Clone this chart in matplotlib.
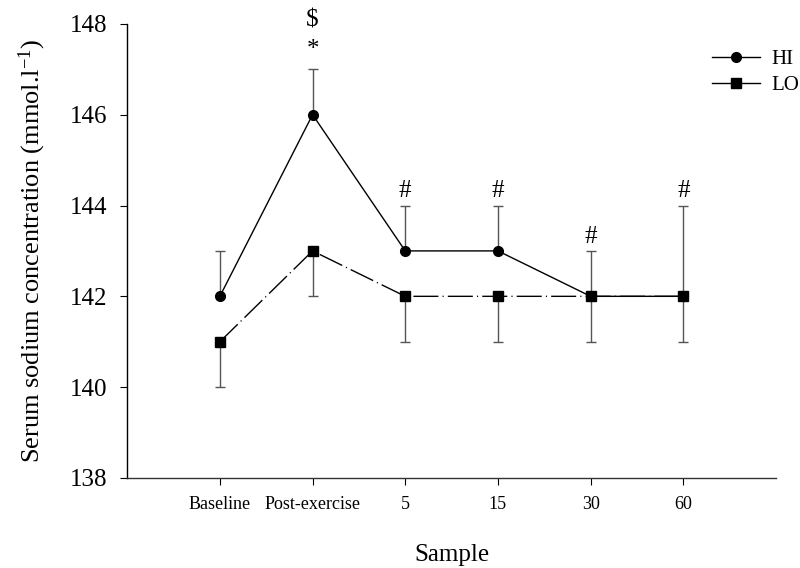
import matplotlib

matplotlib.use("Agg")
import matplotlib.pyplot as plt
import numpy as np

plt.rcParams["font.family"] = ["Liberation Serif", "DejaVu Serif"]
plt.rcParams["mathtext.fontset"] = "custom"
plt.rcParams["mathtext.rm"] = "Liberation Serif"
plt.rcParams["mathtext.it"] = "Liberation Serif:italic"

# data
samples = ["Baseline", "Post-exercise", "5", "15", "30", "60"]
hi_mean = [142, 146, 143, 143, 142, 142]
hi_sd = [1, 1, 1, 1, 1, 2]
lo_mean = [141, 143, 142, 142, 142, 142]
lo_sd = [1, 1, 1, 1, 1, 1]

# significance markers (sample index, y value, symbol)
ann_pos = [1, 1, 2, 3, 4, 5]
ann_y = [148.07, 147.43, 144.32, 144.32, 143.31, 144.32]
ann_txt = ["$", "*", "#", "#", "#", "#"]

x = np.arange(1, len(samples) + 1)
err_col = "#555555"

fig = plt.figure(figsize=(8, 5.68), dpi=100)
ax = fig.add_axes([0.159, 0.1585, 0.811, 0.7995])

# error bars: HI upward only, LO downward only
ax.errorbar(x, hi_mean, yerr=[np.zeros(len(x)), hi_sd], fmt="none",
            ecolor=err_col, elinewidth=1.0, capsize=3.5, capthick=1.0, zorder=2)
ax.errorbar(x, lo_mean, yerr=[lo_sd, np.zeros(len(x))], fmt="none",
            ecolor=err_col, elinewidth=1.0, capsize=3.5, capthick=1.0, zorder=2)

ax.plot(x, hi_mean, color="black", lw=1.0, marker="o", markersize=7,
        label="HI", zorder=3)
ax.plot(x, lo_mean, color="black", lw=1.0, marker="s", markersize=7.5,
        dashes=(18, 3, 0.8, 3), label="LO", zorder=3)

for xi, yi, t in zip(ann_pos, ann_y, ann_txt):
    ax.text(x[xi], yi, t, ha="center", va="center", fontsize=18,
            clip_on=False)

ax.set_xlim(0, 7)
ax.set_ylim(138, 148)
ax.set_xticks(x)
ax.set_xticklabels(samples, fontsize=13)
ax.set_yticks(np.arange(138, 149, 2))
ax.tick_params(axis="y", labelsize=18, direction="out", length=5, pad=9)
ax.tick_params(axis="x", direction="out", length=5, pad=8)
for s in ("top", "right"):
    ax.spines[s].set_visible(False)
ax.spines["left"].set_linewidth(1.0)
ax.spines["bottom"].set_linewidth(1.0)
ax.spines["bottom"].set_color("#333333")

ax.set_xlabel("Sample", fontsize=18, labelpad=22)
ax.set_ylabel("Serum sodium concentration (mmol.l$^{-1}$)", fontsize=19,
              labelpad=16)

leg_handles, leg_labels = ax.get_legend_handles_labels()
lh = [plt.Line2D([0], [0], color="black", lw=1.0, marker=h.get_marker(),
                 markersize=h.get_markersize()) for h in leg_handles]
fig.legend(lh, leg_labels, loc="upper left", bbox_to_anchor=(0.89, 0.913),
           frameon=False, fontsize=15, handlelength=2.3, handletextpad=0.55,
           labelspacing=0.3, borderpad=0, borderaxespad=0)

fig.savefig("out.png", dpi=100)
